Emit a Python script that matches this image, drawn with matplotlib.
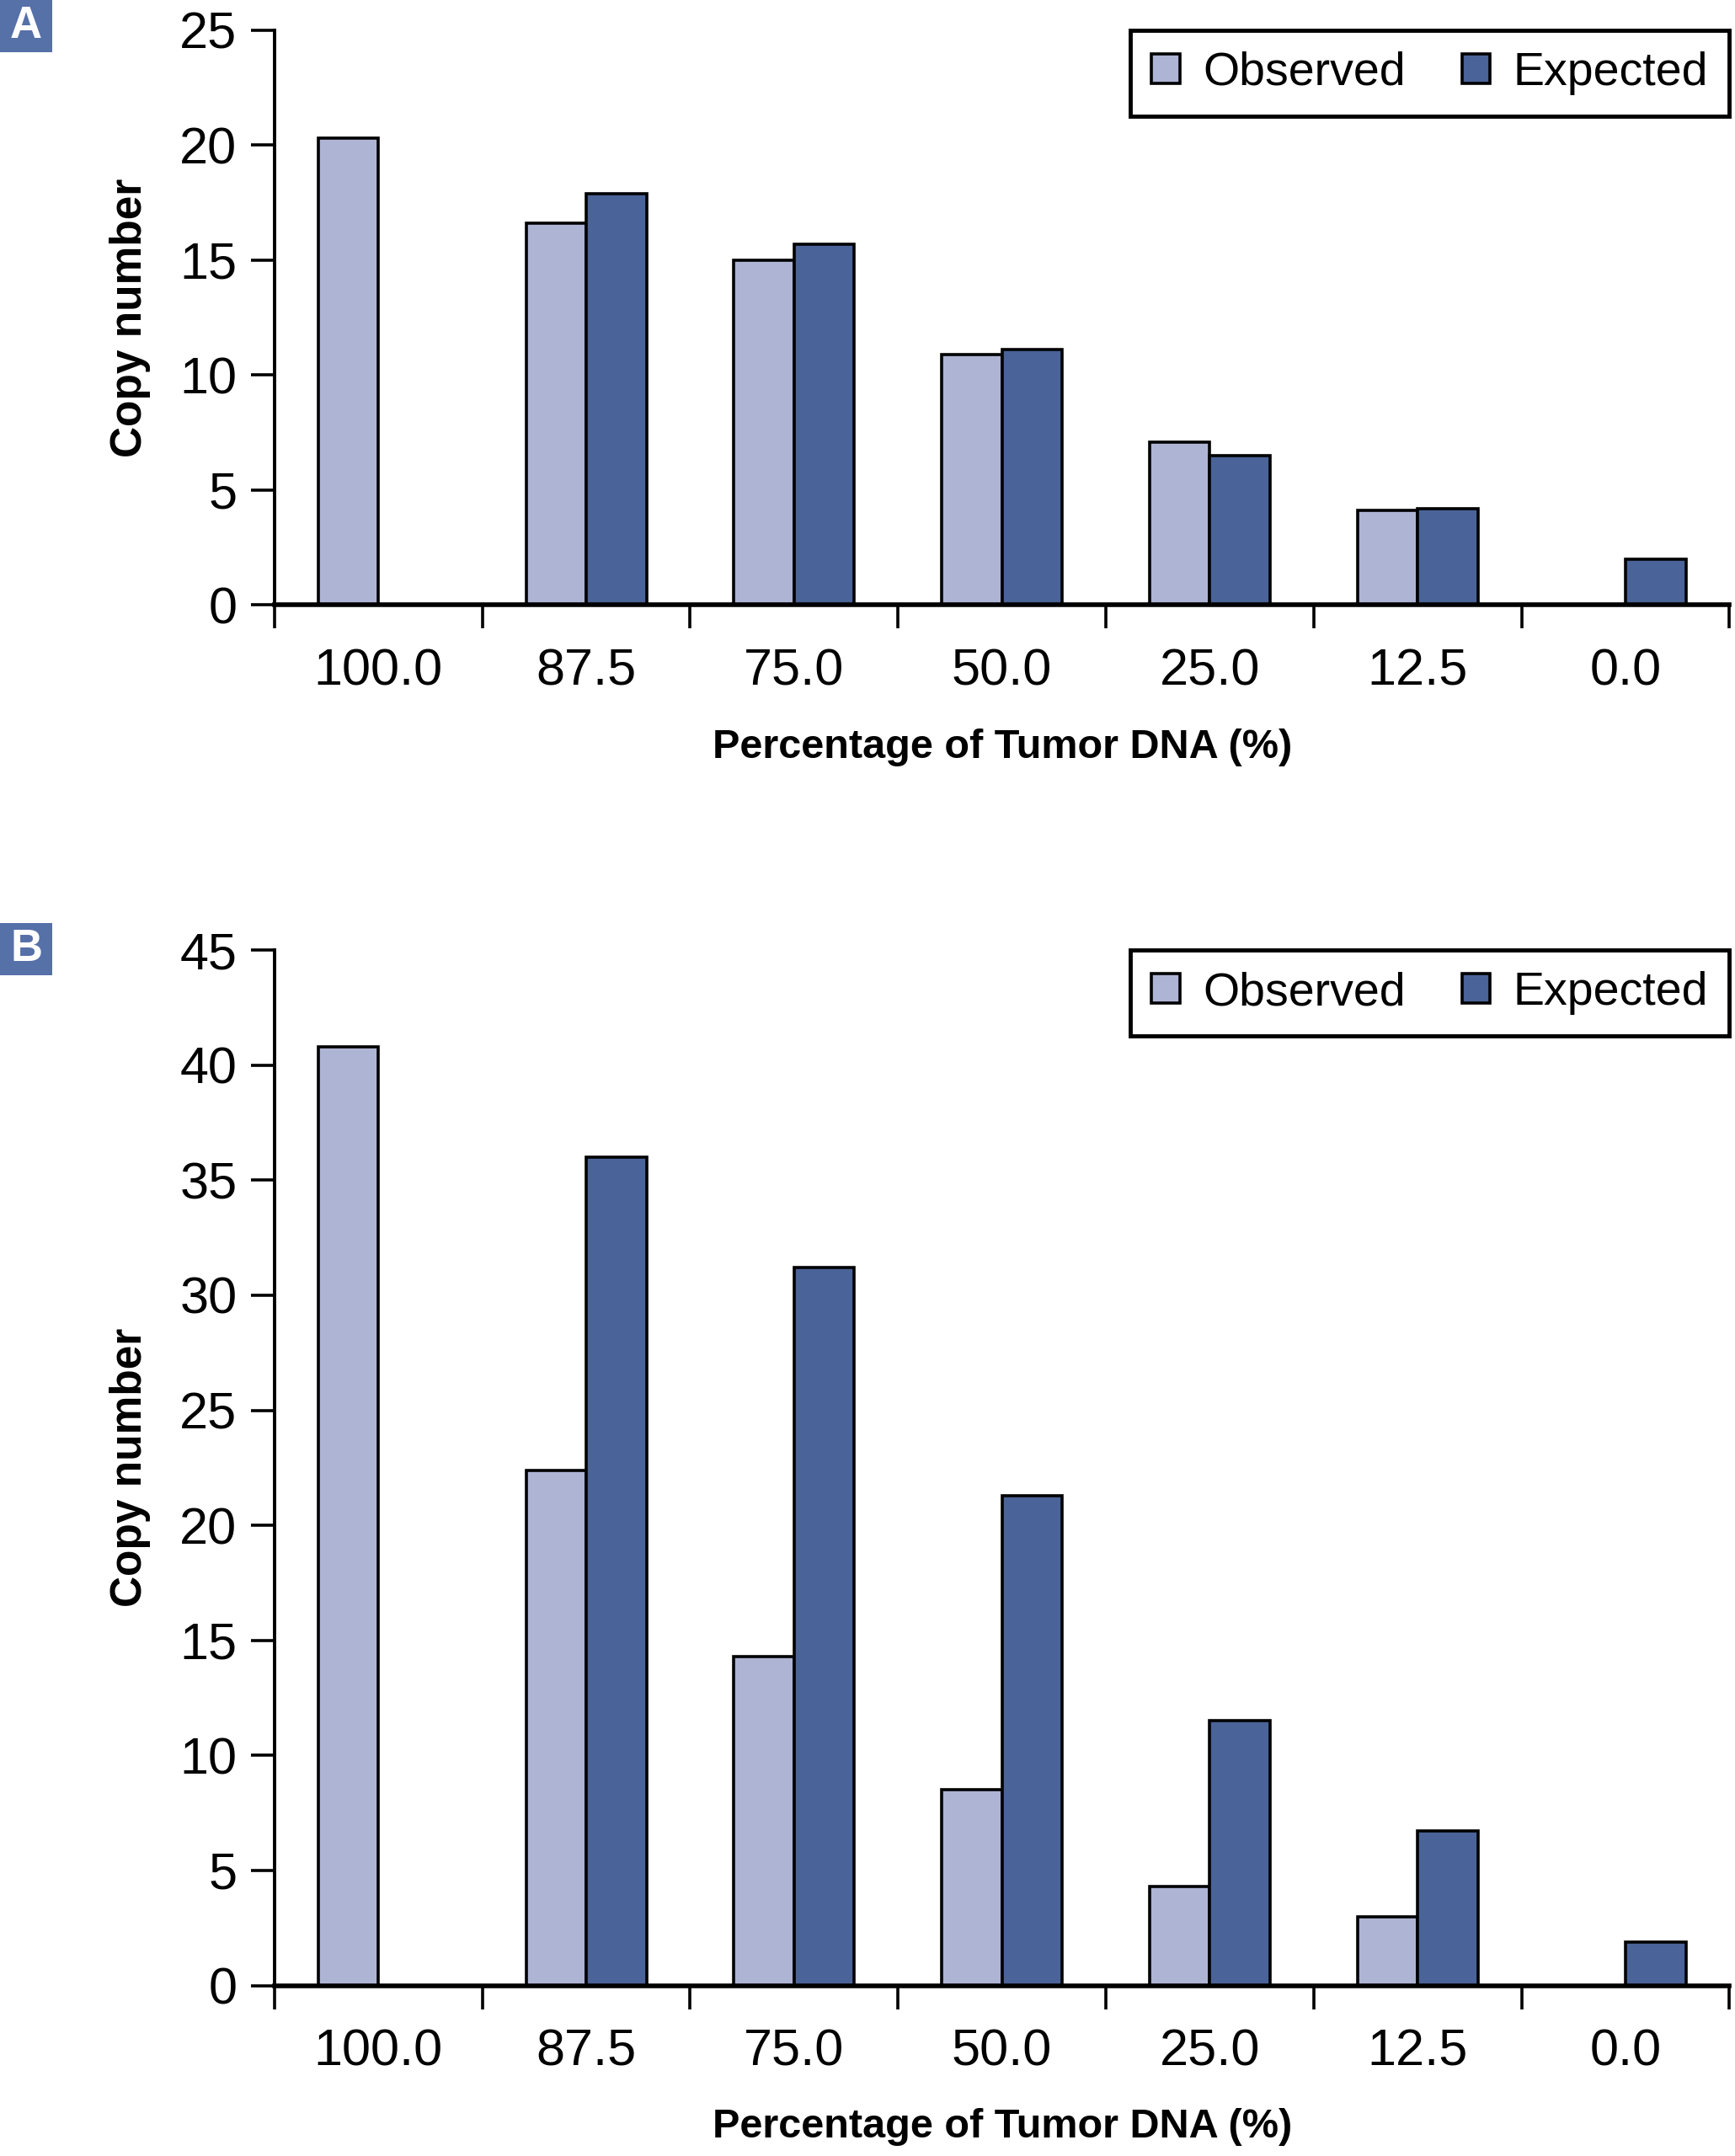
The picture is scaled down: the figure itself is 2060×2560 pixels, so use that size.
import numpy as np
import matplotlib
matplotlib.use("Agg")
import matplotlib.pyplot as plt
from matplotlib.patches import Patch, Rectangle

REG = "Liberation Sans"

categories = ["100.0", "87.5", "75.0", "50.0", "25.0", "12.5", "0.0"]
obs_a = [20.3, 16.6, 15.0, 10.9, 7.1, 4.1, None]
exp_a = [None, 17.9, 15.7, 11.1, 6.5, 4.2, 2.0]
obs_b = [40.8, 22.4, 14.3, 8.5, 4.3, 3.0, None]
exp_b = [None, 36.0, 31.2, 21.3, 11.5, 6.7, 1.9]
ymax_a, ystep_a = 25, 5
ymax_b, ystep_b = 45, 5

C_OBS = "#AEB4D4"
C_EXP = "#4A6398"
C_TAG = "#5670A8"

fig = plt.figure(figsize=(20.6, 25.6), dpi=100)

def panel(rect, obs, exp, ymax, ystep, xlab_y, tag, tag_y):
    ax = fig.add_axes(rect)
    x = np.arange(len(categories))
    w = 0.29
    ox = [xi - w / 2 for xi, v in zip(x, obs) if v is not None]
    ov = [v for v in obs if v is not None]
    ex = [xi + w / 2 for xi, v in zip(x, exp) if v is not None]
    ev = [v for v in exp if v is not None]
    ax.bar(ox, ov, width=w, color=C_OBS, edgecolor="black", linewidth=2.6, zorder=2)
    ax.bar(ex, ev, width=w, color=C_EXP, edgecolor="black", linewidth=2.6, zorder=2)
    ax.set_xlim(-0.5, len(categories) - 0.5)
    ax.set_ylim(0, ymax)
    ax.set_yticks(np.arange(0, ymax + 0.1, ystep))
    ax.set_yticklabels([str(int(t)) for t in np.arange(0, ymax + 0.1, ystep)],
                       family=REG, fontsize=44)
    ax.set_xticks(np.arange(-0.5, len(categories), 1.0))
    ax.set_xticklabels([])
    ax.set_xticks(x, minor=True)
    ax.set_xticklabels(categories, minor=True, family=REG, fontsize=44)
    ax.tick_params(axis="x", which="major", direction="out", length=20, width=2.6)
    ax.tick_params(axis="x", which="minor", length=0, pad=37)
    ax.tick_params(axis="y", direction="out", length=20, width=2.6, pad=12)
    for s in ["top", "right"]:
        ax.spines[s].set_visible(False)
    ax.spines["left"].set_linewidth(2.8)
    ax.spines["bottom"].set_linewidth(4.0)
    ax.spines["bottom"].set_zorder(3)
    ax.set_xlabel("Percentage of Tumor DNA (%)", family=REG, fontweight="bold", fontsize=35)
    ax.xaxis.set_label_coords(0.5, xlab_y)
    ax.set_ylabel("Copy number", family=REG, fontweight="bold", fontsize=37)
    ax.yaxis.set_label_coords(-0.085, 0.5)
    handles = [Patch(facecolor=C_OBS, edgecolor="black", linewidth=2.6, label="Observed"),
               Patch(facecolor=C_EXP, edgecolor="black", linewidth=2.6, label="Expected")]
    leg = ax.legend(handles=handles, ncol=2, loc="upper right", bbox_to_anchor=(1.0, 1.0),
                    borderaxespad=0, fancybox=False, framealpha=1, edgecolor="black",
                    prop={"family": REG, "size": 40}, handlelength=0.6, handleheight=0.6,
                    handletextpad=0.5, columnspacing=1.2, borderpad=0.45)
    leg.get_frame().set_linewidth(3.5)
    fig.patches.append(Rectangle((0, tag_y), 62 / 2060, 62 / 2560, transform=fig.transFigure,
                                 facecolor=C_TAG, edgecolor="none"))
    fig.text(31 / 2060, tag_y + 31 / 2560, tag, ha="center", va="center", color="white",
             fontsize=38, fontweight="bold", family=REG)
    return ax

panel([0.1582, 0.7194, 0.8386, 0.2666], obs_a, exp_a, ymax_a, ystep_a, -0.215, "A", 1 - 62 / 2560)
panel([0.1582, 0.0791, 0.8386, 0.4802], obs_b, exp_b, ymax_b, ystep_b, -0.118, "B", 1 - 1158 / 2560)

fig.savefig("out.png", dpi=100)
